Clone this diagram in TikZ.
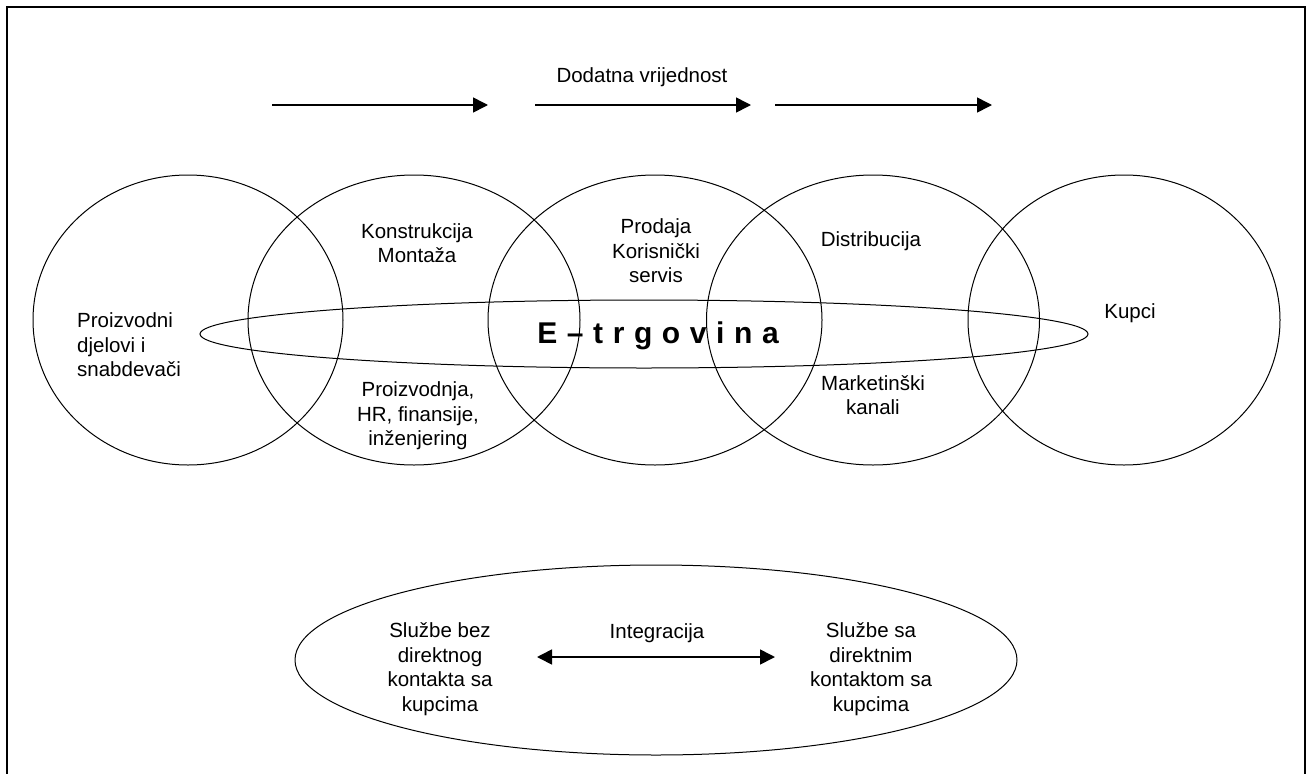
\documentclass[tikz,border=0pt]{standalone}
\usepackage{fontspec}
\setmainfont{Liberation Sans}
\usetikzlibrary{shapes.geometric, arrows.meta}
\tikzstyle{ring} = [ellipse, draw, line width=1pt, inner sep=0pt]
\tikzstyle{arrow} = [line width=1.6pt,-{Triangle[length=15pt,width=15pt]}]
\tikzstyle{twoway} = [line width=1.6pt,{Triangle[length=15pt,width=15pt]}-{Triangle[length=15pt,width=15pt]}]
\tikzstyle{txt} = [inner sep=0pt, align=center, font=\fontsize{20.5}{24.5}\selectfont]

\begin{document}
\begin{tikzpicture}[x=1pt, y=-1pt]
                \useasboundingbox (0,0) rectangle (1310,774);
                \draw [line width=2.5pt] (7,790) -- (7,7) -- (1305,7) -- (1305,790);

                \node (c1) [ring, minimum width=310pt, minimum height=290pt] at (188,320) {};
                \node (c2) [ring, minimum width=332pt, minimum height=290pt] at (414,320) {};
                \node (c3) [ring, minimum width=334pt, minimum height=290pt] at (655,320) {};
                \node (c4) [ring, minimum width=333pt, minimum height=290pt] at (873,320) {};
                \node (c5) [ring, minimum width=312pt, minimum height=290pt] at (1124,320) {};
                \node (etrg) [ring, minimum width=888pt, minimum height=68pt] at (644,334) {};
                \node (usluge) [ring, minimum width=722pt, minimum height=190pt] at (656,660) {};

                \node (dodatna) [txt] at (642,77) {Dodatna vrijednost};
                \coordinate (a1) at (272,105);
                \coordinate (b1) at (488,105);
                \coordinate (a2) at (535,105);
                \coordinate (b2) at (751,105);
                \coordinate (a3) at (775,105);
                \coordinate (b3) at (992,105);

                \node (proiz) [txt, align=left, anchor=west] at (77,345) {Proizvodni\\djelovi i\\snabdevači};
                \node (konst) [txt] at (417,243) {Konstrukcija\\Montaža};
                \node (prod) [txt] at (656,251) {Prodaja\\Korisnički\\servis};
                \node (dist) [txt] at (871,241) {Distribucija};
                \node (kupci) [txt] at (1130,313) {Kupci};
                \node (proizv) [txt] at (418,416) {Proizvodnja,\\HR, finansije,\\inženjering};
                \node (mark) [txt] at (873,395) {Marketinški\\kanali};
                \node (etekst) [inner sep=0pt, font=\fontsize{30}{36}\selectfont\bfseries] at (658,336) {\spaceskip=9.6pt E – t r g o v i n a};

                \node (integr) [txt] at (657,633) {Integracija};
                \node (bez) [txt] at (440,669) {Službe bez\\direktnog\\kontakta sa\\kupcima};
                \node (sa) [txt] at (871,669) {Službe sa\\direktnim\\kontaktom sa\\kupcima};
                \coordinate (ilijevo) at (537,657);
                \coordinate (idesno) at (775,657);

                \draw [arrow] (a1) -- (b1);
                \draw [arrow] (a2) -- (b2);
                \draw [arrow] (a3) -- (b3);
                \draw [twoway] (ilijevo) -- (idesno);
            \end{tikzpicture}
\end{document}
